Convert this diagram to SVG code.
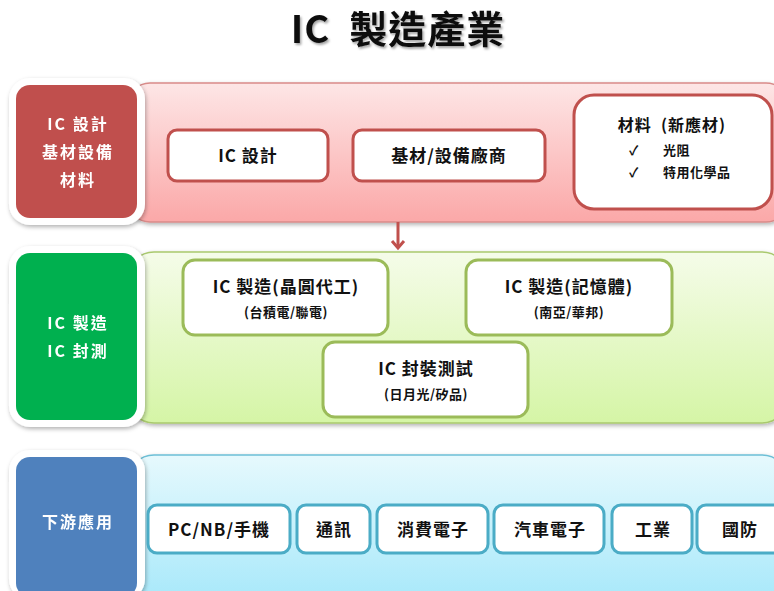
<svg xmlns="http://www.w3.org/2000/svg" width="774" height="591" viewBox="0 0 774 591">
<defs>
<linearGradient id="gRed" x1="0" y1="0" x2="0" y2="1"><stop offset="0" stop-color="#fde6e6"/><stop offset="1" stop-color="#fba8a8"/></linearGradient>
<linearGradient id="gGreen" x1="0" y1="0" x2="0" y2="1"><stop offset="0" stop-color="#f5fce9"/><stop offset="1" stop-color="#d5f5a6"/></linearGradient>
<linearGradient id="gBlue" x1="0" y1="0" x2="0" y2="1"><stop offset="0" stop-color="#e6f9fd"/><stop offset="1" stop-color="#a6e8fa"/></linearGradient>
<filter id="sh" x="-10%" y="-10%" width="120%" height="130%"><feDropShadow dx="1" dy="2" stdDeviation="2" flood-color="#000" flood-opacity="0.3"/></filter>
<filter id="tsh" x="-10%" y="-20%" width="120%" height="150%"><feDropShadow dx="1.5" dy="2" stdDeviation="1.2" flood-color="#000" flood-opacity="0.35"/></filter>
<style>
text{font-family:"Noto Sans CJK TC","Noto Sans",sans-serif;font-weight:bold;text-anchor:middle;white-space:pre;}
.lab{fill:#fff;font-size:16px;letter-spacing:2px;}
.t{fill:#111;font-size:17px;letter-spacing:1px;}
.s{fill:#111;font-size:13px;letter-spacing:0.5px;}
.wb{fill:#fff;stroke:#fff;stroke-width:10;}
.rb{fill:#fff;stroke:#c0504d;stroke-width:3;}
.gb{fill:#fff;stroke:#9bbb59;stroke-width:3;}
.bb{fill:#fff;stroke:#4bacc6;stroke-width:3;}
</style>
</defs>
<rect width="774" height="591" fill="#fff"/>
<text x="398" y="43" style="font-size:38px;fill:#111;letter-spacing:1px" filter="url(#tsh)">IC  製造產業</text>

<!-- bands -->
<g id="band1"><rect x="128" y="83" width="660" height="139" rx="22" fill="url(#gRed)" stroke="#d98b89" stroke-width="1.5" filter="url(#sh)"/></g>
<g id="band2"><rect x="128" y="252" width="660" height="171" rx="26" fill="url(#gGreen)" stroke="#a9c96e" stroke-width="1.5" filter="url(#sh)"/></g>
<g id="band3"><rect x="128" y="455" width="660" height="150" rx="26" fill="url(#gBlue)" stroke="#6cbfd6" stroke-width="1.5" filter="url(#sh)"/></g>

<g id="connectors"><line x1="398" y1="222" x2="398" y2="248" stroke="#c0504d" stroke-width="3"/><path d="M392,241 L398,248 L404,241" fill="none" stroke="#c0504d" stroke-width="3" stroke-linejoin="miter"/></g>

<!-- label boxes -->
<g id="label1" filter="url(#sh)"><rect x="14" y="83" width="126" height="137" rx="16" class="wb"/><rect x="16" y="85" width="121" height="133" rx="14" fill="#c0504d"/>
<text class="lab" x="78" y="130">IC 設計</text><text class="lab" x="78" y="158">基材設備</text><text class="lab" x="78" y="186">材料</text></g>
<g id="label2" filter="url(#sh)"><rect x="14" y="251" width="126" height="171" rx="16" class="wb"/><rect x="16" y="253" width="121" height="167" rx="14" fill="#00b050"/>
<text class="lab" x="78" y="329">IC 製造</text><text class="lab" x="78" y="357">IC 封測</text></g>
<g id="label3" filter="url(#sh)"><rect x="14" y="455" width="126" height="140" rx="16" class="wb"/><rect x="16" y="457" width="121" height="140" rx="14" fill="#4f81bd"/>
<text class="lab" x="78" y="528">下游應用</text></g>

<!-- top nodes -->
<g id="n_icdesign"><rect x="168" y="130" width="160" height="51" rx="9" class="rb"/><text class="t" x="248" y="162">IC 設計</text></g>
<g id="n_equip"><rect x="353" y="130" width="192" height="51" rx="9" class="rb"/><text class="t" x="449" y="162">基材/設備廠商</text></g>
<g id="n_material"><rect x="574" y="95" width="198" height="114" rx="20" class="rb"/>
<text class="t" x="672" y="131" style="font-size:16px">材料  (新應材)</text>
<text class="s" x="634" y="155">✓</text><text class="s" x="663" y="155" style="text-anchor:start">光阻</text>
<text class="s" x="634" y="177">✓</text><text class="s" x="663" y="177" style="text-anchor:start">特用化學品</text></g>

<!-- middle nodes -->
<g id="n_foundry"><rect x="183" y="260" width="205" height="75" rx="12" class="gb"/><text class="t" x="286" y="293">IC 製造(晶圓代工)</text><text class="s" x="286" y="317">(台積電/聯電)</text></g>
<g id="n_memory"><rect x="466" y="260" width="206" height="75" rx="12" class="gb"/><text class="t" x="569" y="293">IC 製造(記憶體)</text><text class="s" x="569" y="317">(南亞/華邦)</text></g>
<g id="n_pkg"><rect x="323" y="342" width="205" height="75" rx="12" class="gb"/><text class="t" x="426" y="375">IC 封裝測試</text><text class="s" x="426" y="399">(日月光/矽品)</text></g>

<!-- bottom nodes -->
<g id="n_pc"><rect x="148" y="505" width="142" height="48" rx="9" class="bb"/><text class="t" x="219" y="536">PC/NB/手機</text></g>
<g id="n_comm"><rect x="297" y="505" width="73" height="48" rx="9" class="bb"/><text class="t" x="334" y="536">通訊</text></g>
<g id="n_consumer"><rect x="377" y="505" width="111" height="48" rx="9" class="bb"/><text class="t" x="433" y="536">消費電子</text></g>
<g id="n_auto"><rect x="494" y="505" width="110" height="48" rx="9" class="bb"/><text class="t" x="550" y="536">汽車電子</text></g>
<g id="n_ind"><rect x="612" y="505" width="80" height="48" rx="9" class="bb"/><text class="t" x="653" y="536">工業</text></g>
<g id="n_def"><rect x="697" y="505" width="90" height="48" rx="9" class="bb"/><text class="t" x="740" y="536">國防</text></g>
</svg>
